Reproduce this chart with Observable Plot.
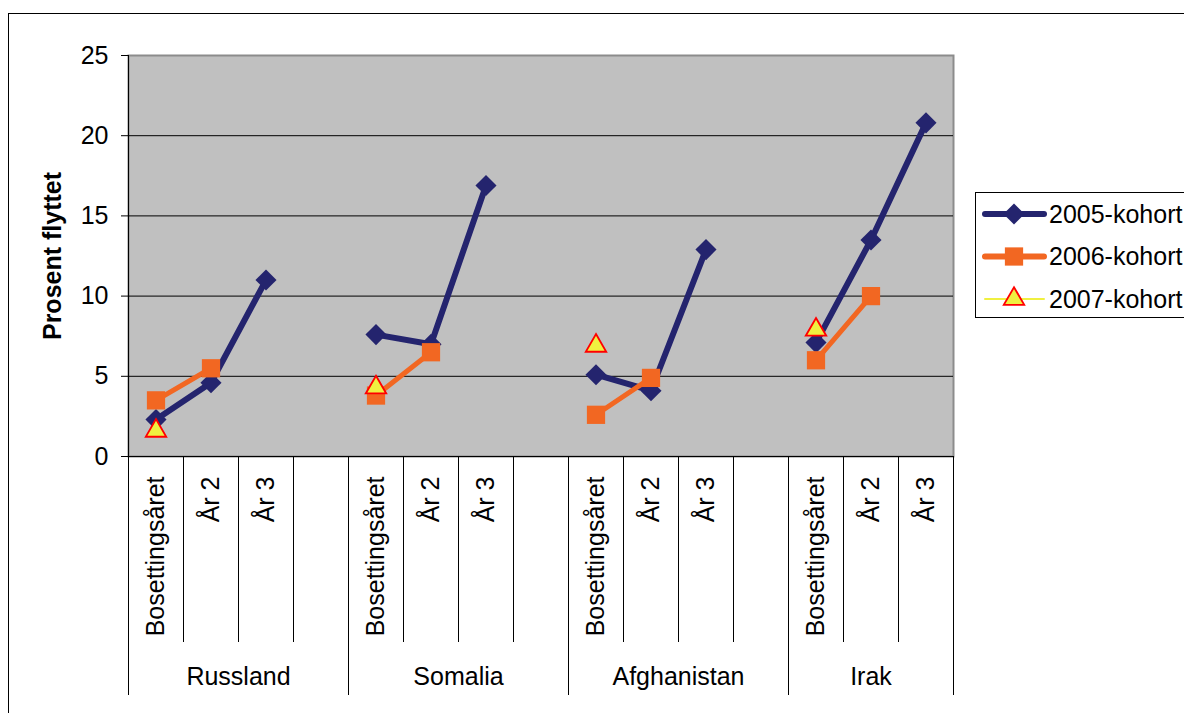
<!DOCTYPE html>
<html>
<head>
<meta charset="utf-8">
<script src="https://cdn.jsdelivr.net/npm/d3@7"></script>
<script src="https://cdn.jsdelivr.net/npm/@observablehq/plot@0.6"></script>
<style>
  html, body { margin: 0; padding: 0; background: #fff; overflow: hidden; }
  #wrap { position: relative; width: 1184px; height: 713px; overflow: hidden; font-family: "Liberation Sans", Arial, sans-serif; }
  #outer { position: absolute; left: 8px; top: 13px; width: 1300px; height: 800px; border: 1px solid #000; box-sizing: border-box; }
  #chart { position: absolute; left: 0; top: 0; }
  #legend { position: absolute; left: 975px; top: 192px; width: 240px; height: 126px; border: 1px solid #000; box-sizing: border-box; background: #fff; }
</style>
</head>
<body>
<div id="wrap">
  <div id="outer"></div>
  <div id="chart"></div>
  <div id="legend"></div>
</div>
<script>
// ---- data ----
const countries = ["Russland", "Somalia", "Afghanistan", "Irak"];
const periods = ["Bosettingsåret", "År 2", "År 3"];
const series = ["2005-kohort", "2006-kohort", "2007-kohort"];
const v2005 = [[2.3, 4.6, 11.0], [7.6, 7.0, 16.9], [5.1, 4.1, 12.9], [7.1, 13.5, 20.8]];
const v2006 = [[3.5, 5.5], [3.8, 6.5], [2.6, 4.9], [6.0, 10.0]];
const v2007 = [[1.6], [4.3], [6.9], [7.9]];
const yTicks = [0, 5, 10, 15, 20, 25];
const yLabel = "Prosent flyttet";
const colors = ["#24246e", "#f26722", "#f0f040"];

// ---- derived tables ----
const slotsPerCountry = 4;
const nSlots = countries.length * slotsPerCountry - 1; // last group has no blank slot
function rows(vals, name) {
  const out = [];
  vals.forEach((arr, c) => arr.forEach((v, s) => out.push({country: countries[c], pos: c * slotsPerCountry + s + 0.5, value: v, series: name})));
  return out;
}
const d2005 = rows(v2005, series[0]);
const d2006 = rows(v2006, series[1]);
const d2007 = rows(v2007, series[2]);
const slotLabels = [];
countries.forEach((c, ci) => periods.forEach((p, pi) => slotLabels.push({pos: ci * slotsPerCountry + pi + 0.5, label: p})));
const groupLabels = countries.map((c, ci) => ({pos: ci === countries.length - 1 ? (ci * slotsPerCountry + nSlots) / 2 : ci * slotsPerCountry + 2, label: c}));
const innerBounds = d3.range(0, nSlots + 1).filter(i => i % slotsPerCountry !== 0 && i !== nSlots);
const groupBounds = d3.range(0, countries.length).map(i => i * slotsPerCountry).concat([nSlots]);

const font = "Liberation Sans, Arial, sans-serif";
const fs = 25;

// category axis separators drawn with the x scale
function separators(index, scales, values, dims) {
  const g = d3.create("svg:g").attr("stroke", "#000").attr("stroke-width", 1);
  const y0 = scales.y(0);
  innerBounds.forEach(b => {
    const x = Math.round(scales.x(b)) + 0.5;
    g.append("line").attr("x1", x).attr("x2", x).attr("y1", y0).attr("y2", y0 + 186);
  });
  groupBounds.forEach(b => {
    const x = Math.round(scales.x(b)) + 0.5;
    g.append("line").attr("x1", x).attr("x2", x).attr("y1", y0).attr("y2", y0 + 239);
  });
  return g.node();
}

const chart = Plot.plot({
  width: 1184,
  height: 713,
  marginLeft: 128,
  marginRight: 231,
  marginTop: 55,
  marginBottom: 257,
  style: {fontFamily: font, background: "transparent", overflow: "visible"},
  x: {domain: [0, nSlots], axis: null},
  y: {domain: [0, 25], axis: null},
  marks: [
    Plot.frame({fill: "#c0c0c0", stroke: "#8c8c8c", strokeWidth: 2}),
    Plot.ruleY(yTicks.filter(t => t > 0 && t < 25), {stroke: "#000", strokeWidth: 1}),
    Plot.ruleX([0], {stroke: "#000", strokeWidth: 1}),
    Plot.ruleY([0], {stroke: "#000", strokeWidth: 1}),
    Plot.axisY({ticks: yTicks, tickSize: 7, tickPadding: 13, fontSize: fs, stroke: "#000", fill: "#000", label: null}),
    Plot.text([yLabel], {frameAnchor: "left", textAnchor: "middle", dx: -76, rotate: -90, fontSize: fs, fontWeight: "bold", fill: "#000"}),
    separators,
    Plot.text(slotLabels, {x: "pos", y: () => 0, text: "label", rotate: -90, textAnchor: "end", dy: 20, fontSize: fs, fill: "#000"}),
    Plot.text(groupLabels, {x: "pos", y: () => 0, text: "label", dy: 220, fontSize: fs, fill: "#000"}),
    // 2005 series
    Plot.line(d2005, {x: "pos", y: "value", z: "country", stroke: colors[0], strokeWidth: 6, strokeLinejoin: "round"}),
    Plot.dot(d2005, {x: "pos", y: "value", symbol: "diamond2", r: 9.5, fill: colors[0], stroke: "none"}),
    // 2006 series
    Plot.line(d2006, {x: "pos", y: "value", z: "country", stroke: colors[1], strokeWidth: 5}),
    Plot.dot(d2006, {x: "pos", y: "value", symbol: "square", r: 10.3, fill: colors[1], stroke: "none"}),
    // 2007 series
    Plot.dot(d2007, {x: "pos", y: "value", symbol: "triangle", r: 7.6, fill: colors[2], stroke: "#ff0000", strokeWidth: 1.8})
  ]
});
document.getElementById("chart").appendChild(chart);

// ---- legend ----
const legend = d3.select("#legend").append("svg").attr("width", 240).attr("height", 126);
const symbolPaths = [
  d3.symbol(d3.symbolDiamond2, Math.PI * 9.5 * 9.5)(),
  d3.symbol(d3.symbolSquare, Math.PI * 10.3 * 10.3)(),
  d3.symbol(d3.symbolTriangle, Math.PI * 7.6 * 7.6)()
];
const lineW = [6, 6, 2];
series.forEach((s, i) => {
  const cy = 21 + i * 42.5;
  const g = legend.append("g");
  g.append("line").attr("x1", 9).attr("x2", 68).attr("y1", cy).attr("y2", cy)
    .attr("stroke", colors[i]).attr("stroke-width", lineW[i]).attr("stroke-linecap", "round");
  g.append("path").attr("d", symbolPaths[i]).attr("transform", `translate(38,${cy})`)
    .attr("fill", colors[i]).attr("stroke", i === 2 ? "#ff0000" : "none").attr("stroke-width", 1.8);
  g.append("text").attr("x", 73).attr("y", cy).attr("dy", "0.35em")
    .attr("font-family", font).attr("font-size", fs).attr("fill", "#000").text(s);
});
</script>
</body>
</html>
